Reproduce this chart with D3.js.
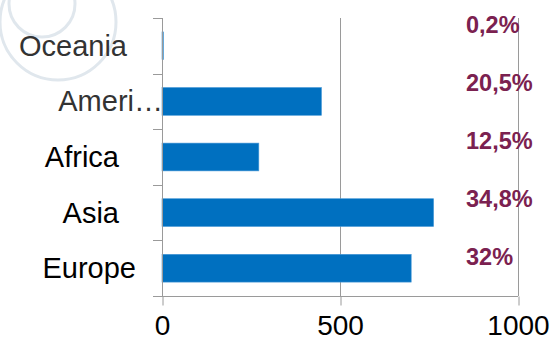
<!DOCTYPE html>
<html><head><meta charset="utf-8">
<script src="https://cdn.jsdelivr.net/npm/d3@7"></script>
<style>body{margin:0;background:#fff}svg{display:block}svg text{font-family:"Liberation Sans",Arial,Helvetica,sans-serif}</style>
</head><body><svg width="554" height="343"></svg>
<script>
const categories = ["Oceania", "Ameri…", "Africa", "Asia", "Europe"];
const values = [4, 448, 272, 763, 700];
const shares = ["0,2%", "20,5%", "12,5%", "34,8%", "32%"];
const xTicks = [0, 500, 1000];

// layout only
const labelEnd = [127, 163, 119, 119, 136];
const labelFill = ["#333", "#333", "#000", "#000", "#000"];

(function () {
const svg = d3.select("svg");
const pl = 162, pr = 518, pt = 18, pb = 296;
const x = d3.scaleLinear().domain([0, 1000]).range([pl, pr]);
const y = d3.scaleBand().domain(categories).range([pt, pb]).paddingInner(0.5).paddingOuter(0.25);
const yp = d3.scalePoint().domain(categories).range([33, 265]);
const grey = "#9a9a9a";

// watermark
const wm = svg.append("g").attr("fill", "none").attr("stroke", "#e0e7ed").attr("stroke-width", 3);
wm.append("circle").attr("cx", 58).attr("cy", 22).attr("r", 58);
wm.append("circle").attr("cx", 42).attr("cy", 4).attr("r", 33);

// gridlines
svg.append("g").selectAll("line").data(xTicks.slice(1)).join("line")
  .attr("x1", d => Math.round(x(d)) + 0.5).attr("x2", d => Math.round(x(d)) + 0.5)
  .attr("y1", pt).attr("y2", pb).attr("stroke", grey);

// bars
svg.append("g").selectAll("rect").data(categories).join("rect")
  .attr("x", x(0)).attr("y", d => y(d))
  .attr("width", (d, i) => x(values[i]) - x(0)).attr("height", y.bandwidth())
  .attr("fill", "#0070c0").attr("stroke", "#4a9ad8").attr("stroke-width", 0.6);

// x axis
const xa = svg.append("g").attr("transform", `translate(0,${pb + 0.5})`)
  .call(d3.axisBottom(x).tickValues(xTicks).tickSize(9).tickSizeOuter(0).tickPadding(10).tickFormat(d3.format("d")));
xa.attr("font-family", null);
xa.select(".domain").attr("stroke", grey).attr("d", `M${pl - 9},0H${pr}`);
xa.selectAll(".tick line").attr("stroke", grey).attr("transform", "translate(0.5,0)");
xa.selectAll("text").attr("font-size", 28).attr("fill", "#000");

// y axis line and ticks
const bounds = [pt];
categories.forEach((d, i) => { if (i > 0) bounds.push(y(d) - y.step() * y.paddingInner() / 2); });
bounds.push(pb);
svg.append("line").attr("x1", pl + 0.5).attr("x2", pl + 0.5).attr("y1", pt).attr("y2", pb).attr("stroke", grey);
svg.append("g").selectAll("line").data(bounds).join("line")
  .attr("x1", pl - 9).attr("x2", pl).attr("y1", d => Math.round(d) + 0.5).attr("y2", d => Math.round(d) + 0.5)
  .attr("stroke", grey);

// category labels
svg.append("g").selectAll("text").data(categories).join("text")
  .attr("x", (d, i) => labelEnd[i]).attr("y", d => y(d) + y.bandwidth() / 2)
  .attr("text-anchor", "end").attr("dominant-baseline", "central")
  .attr("font-size", 29)
  .attr("fill", (d, i) => labelFill[i]).text(d => d);

// share labels
svg.append("g").selectAll("text").data(categories).join("text")
  .attr("x", 466).attr("y", d => yp(d))
  .attr("font-weight", "bold").attr("font-size", 23.5)
  .attr("fill", "#7b2150").text((d, i) => shares[i]);
})();
</script></body></html>
